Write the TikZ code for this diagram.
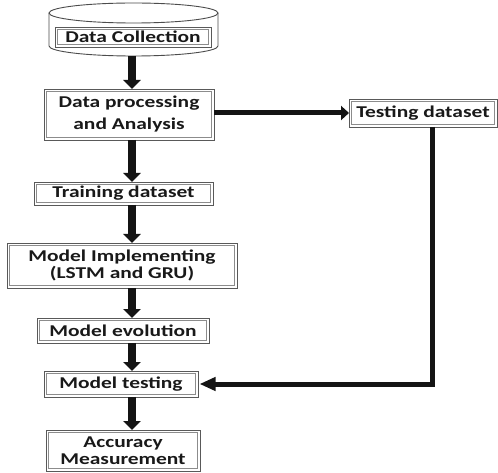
\documentclass[tikz,border=0pt]{standalone}
\usepackage{fontspec}
\setmainfont{Carlito}[FakeStretch=1.3]
\usetikzlibrary{arrows.meta}
\tikzset{
  box/.style={draw=black!65, line width=0.9pt, fill=white, inner sep=0pt, outer sep=0pt,
    align=center, text=black!90, font=\fontsize{16.5}{19}\selectfont\bfseries},
  innerframe/.style={draw=black!45, line width=0.7pt},
  cyl/.style={draw=black!70, line width=0.9pt},
  varrow/.style={line width=8pt, draw=black!92, -{Triangle[length=9pt,width=17pt]}},
  harrow/.style={line width=5pt, draw=black!92, -{Triangle[length=8pt,width=14pt]}},
  barrow/.style={line width=5pt, draw=black!92, line join=miter, -{Triangle[length=16pt,width=13pt]}}
}
\begin{document}
\begin{tikzpicture}[x=1pt,y=-1pt]
\useasboundingbox (0,0) rectangle (498,473);
\fill[white] (0,0) rectangle (498,473);
% cylinder
\draw[cyl,fill=white] (49,13) -- (49,46) arc[start angle=180,end angle=360,x radius=84.5pt,y radius=10pt] -- (218,13);
\draw[cyl] (133.5,13) ellipse [x radius=84.5pt, y radius=10pt];
\coordinate (cylbot) at (133.5,56);
% nodes
\node[box, minimum width=156pt, minimum height=20pt] (dc) at (133,37) {Data Collection};
\node[box, minimum width=170pt, minimum height=51pt] (dp) at (129,114.5) {Data processing\\[3pt]and Analysis};
\node[box, minimum width=148pt, minimum height=28pt] (td) at (423,113) {Testing dataset};
\node[box, minimum width=179pt, minimum height=23pt] (tr) at (123.5,193.5) {Training dataset};
\node[box, minimum width=230pt, minimum height=45pt] (mi) at (122,265.5) {Model Implementing\\[-2pt](LSTM and GRU)};
\node[box, minimum width=172pt, minimum height=25pt] (me) at (123,330.5) {Model evolution};
\node[box, minimum width=154pt, minimum height=26pt] (mt) at (121,384) {Model testing};
\node[box, minimum width=154pt, minimum height=41pt] (am) at (123,450.5) {Accuracy\\[-2pt]Measurement};
\foreach \n in {dc,dp,td,tr,mi,me,mt,am}
  \draw[innerframe] ([shift={(2.8pt,-2.8pt)}]\n.north west) rectangle ([shift={(-2.8pt,2.8pt)}]\n.south east);
% connectors
\coordinate (ax) at (132,0);
\coordinate (tx) at (432,0);
\draw[varrow] (cylbot -| ax) -- (dp.north -| ax);
\draw[varrow] (dp.south -| ax) -- (tr.north -| ax);
\draw[varrow] (tr.south -| ax) -- (mi.north -| ax);
\draw[varrow] (mi.south -| ax) -- (me.north -| ax);
\draw[varrow] (me.south -| ax) -- (mt.north -| ax);
\draw[varrow] (mt.south -| ax) -- (am.north -| ax);
\draw[harrow] (dp.east |- td.west) -- (td.west);
\draw[barrow, shorten >=1.5pt] (td.south -| tx) |- (mt.east);
\end{tikzpicture}
\end{document}
